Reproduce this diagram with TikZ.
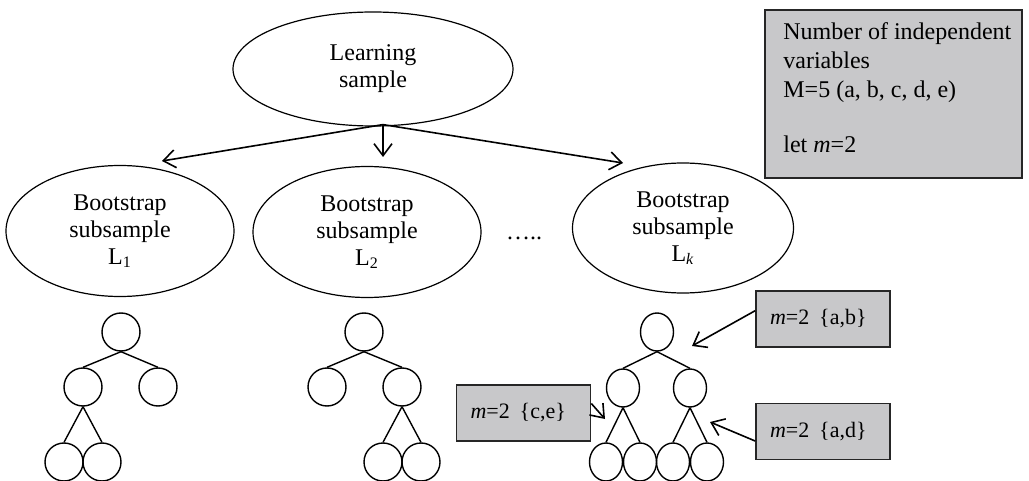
\documentclass[tikz,border=0pt]{standalone}
\usepackage{fontspec}
\setmainfont{Liberation Serif}
\usetikzlibrary{shapes.geometric,arrows.meta,calc}
\definecolor{boxgray}{RGB}{200,200,202}
\begin{document}
\begin{tikzpicture}[x=0.5pt,y=-0.5pt,
  oval/.style={draw, ellipse, line width=0.6pt, inner sep=0pt, align=center, font=\fontsize{12}{13.5}\selectfont},
  leaf/.style={draw, circle, line width=0.7pt, minimum size=19pt, inner sep=0pt},
  leafk/.style={draw, ellipse, line width=0.7pt, minimum width=16.5pt, minimum height=19pt, inner sep=0pt},
  tbox/.style={draw=black!85, fill=boxgray, line width=0.8pt, minimum width=67pt, minimum height=28pt, inner xsep=7pt, inner ysep=0pt, text width=53pt, align=left, font=\fontsize{11}{13}\selectfont},
  infobox/.style={draw=black!85, fill=boxgray, line width=0.8pt, minimum width=128.5pt, minimum height=84pt, inner sep=0pt},
  infotext/.style={inner sep=0pt, align=left, anchor=north west, font=\fontsize{12}{14.5}\selectfont},
  arr/.style={-{Straight Barb[length=6pt,width=9pt]}, line width=0.8pt},
  tedge/.style={line width=0.7pt}]
\useasboundingbox (0,0) rectangle (1029,481);

% info box
\node[infobox] (info) at (893.5,94) {};
\node[infotext] (infot) at (783,22) {Number of independent\\variables\\M=5 (a, b, c, d, e)\\[13pt]let \textit{m}=2};

% ellipses
\node[oval, minimum width=140pt, minimum height=57pt] (ls) at (373,69) {Learning\\sample};
\node[oval, minimum width=114pt, minimum height=65.5pt] (bs1) at (120,231) {Bootstrap\\subsample\\L\textsubscript{1}};
\node[oval, minimum width=114pt, minimum height=65.5pt] (bs2) at (367,232) {Bootstrap\\subsample\\L\textsubscript{2}};
\node[oval, minimum width=110.5pt, minimum height=65pt] (bsk) at (683,228) {Bootstrap\\subsample\\L\textsubscript{\textit{k}}};
\node[font=\fontsize{12}{14}\selectfont, inner sep=0pt] (dots) at (524,238) {…..};

% arrows from learning sample
\coordinate (src) at ($(ls.south)+(10,-2)$);
\coordinate (t1) at (162,161);
\coordinate (t2) at (383,157);
\coordinate (tk) at (623,163);
\draw[arr] (src) -- (t1);
\draw[arr] (src) -- (t2);
\draw[arr] (src) -- (tk);

% tree 1
\node[leaf] (a0) at (121,332) {};
\node[leaf] (a1) at (83,387) {};
\node[leaf] (a2) at (158,387) {};
\node[leaf] (a3) at (64,462) {};
\node[leaf] (a4) at (102,462) {};
\draw[tedge] (a0.south) -- (a1.north);
\draw[tedge] (a0.south) -- (a2.north);
\draw[tedge] (a1.south) -- (a3.north);
\draw[tedge] (a1.south) -- (a4.north);

% tree 2
\node[leaf] (c0) at (364,332) {};
\node[leaf] (c1) at (327,387) {};
\node[leaf] (c2) at (402,387) {};
\node[leaf] (c3) at (383,462) {};
\node[leaf] (c4) at (421,462) {};
\draw[tedge] (c0.south) -- (c1.north);
\draw[tedge] (c0.south) -- (c2.north);
\draw[tedge] (c2.south) -- (c3.north);
\draw[tedge] (c2.south) -- (c4.north);

% tree k
\node[leafk] (k0) at (657,332) {};
\node[leafk] (k1) at (623,388) {};
\node[leafk] (k2) at (690,388) {};
\node[leafk] (k3) at (606,462) {};
\node[leafk] (k4) at (640,462) {};
\node[leafk] (k5) at (673,462) {};
\node[leafk] (k6) at (707,462) {};
\draw[tedge] (k0.south) -- (k1.north);
\draw[tedge] (k0.south) -- (k2.north);
\draw[tedge] (k1.south) -- (k3.north);
\draw[tedge] (k1.south) -- (k4.north);
\draw[tedge] (k2.south) -- (k5.north);
\draw[tedge] (k2.south) -- (k6.north);

% m boxes
\node[tbox] (ab) at (823,319) {\textit{m}=2\hspace{0.45em}\{a,b\}};
\node[tbox] (ce) at (523.5,413) {\textit{m}=2\hspace{0.45em}\{c,e\}};
\node[tbox] (ad) at (823,431.5) {\textit{m}=2\hspace{0.45em}\{a,d\}};
\coordinate (tab) at (692,346);
\coordinate (tce) at (605,419);
\coordinate (tad) at (710,422);
\draw[arr] (ab.173) -- (tab);
\draw[arr] (ce.8) -- (tce);
\draw[arr] (ad.188) -- (tad);
\end{tikzpicture}
\end{document}
